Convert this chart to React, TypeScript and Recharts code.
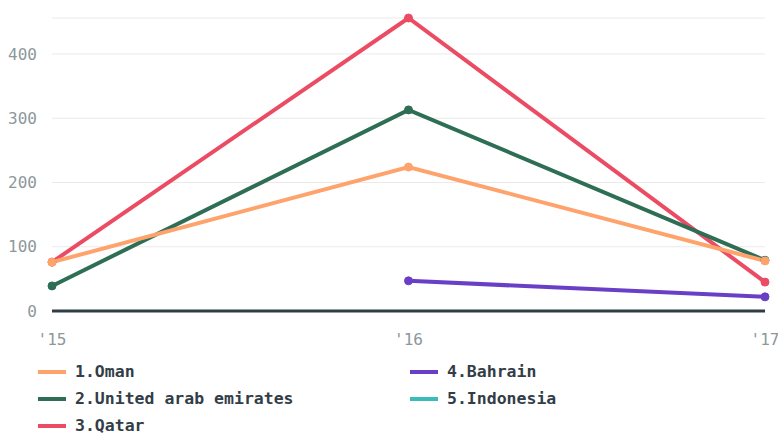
import React from 'react';
import { LineChart, Line, XAxis, YAxis, CartesianGrid } from 'recharts';

const years = ["'15", "'16", "'17"];
const oman = [76, 224, 78];
const uae = [39, 313, 79];
const qatar = [76, 456, 45];
const bahrain = [null, 47, 22];
const indonesia = [null, null, null];
const yTicks = [0, 100, 200, 300, 400];

const series = [
  { key: 'oman', name: '1.Oman', color: '#ffa36c', values: oman },
  { key: 'uae', name: '2.United arab emirates', color: '#2d6e55', values: uae },
  { key: 'qatar', name: '3.Qatar', color: '#ec4c63', values: qatar },
  { key: 'bahrain', name: '4.Bahrain', color: '#6a3fc8', values: bahrain },
  { key: 'indonesia', name: '5.Indonesia', color: '#3bbcb8', values: indonesia },
];

const data = years.map((year, i) => {
  const row: Record<string, string | number | null> = { year };
  series.forEach(s => { row[s.key] = s.values[i]; });
  return row;
});

const font = '"DejaVu Sans Mono", monospace';

const LegendItem = ({ name, color }: { name: string; color: string }) => (
  <div style={{ display: 'flex', alignItems: 'center', height: 27 }}>
    <div style={{ width: 28, height: 4, background: color, marginRight: 9 }} />
    <span style={{ fontWeight: 'bold', fontSize: 16.5, color: '#333d47' }}>{name}</span>
  </div>
);

const App: React.FC = () => {
  // draw in reverse so Oman sits on top, like the original
  const drawOrder = [...series].reverse();
  return (
    <div style={{ position: 'absolute', left: 0, top: 0, width: 778, height: 435, background: '#fff', fontFamily: font, overflow: 'hidden' }}>
      <LineChart width={778} height={352} data={data} margin={{ top: 18, right: 13, left: 0, bottom: 11 }}>
        <CartesianGrid horizontal vertical={false} stroke="#eaeaea" strokeWidth={1} />
        <XAxis
          dataKey="year"
          height={30}
          axisLine={{ stroke: '#2f3e46', strokeWidth: 3 }}
          tickLine={false}
          tickSize={0}
          tickMargin={23}
          tick={{ fill: '#8d979c', fontSize: 16, fontFamily: font }}
          interval={0}
        />
        <YAxis
          width={52}
          domain={[0, 'dataMax']}
          ticks={yTicks}
          axisLine={false}
          tickLine={false}
          tickSize={0}
          tickMargin={15}
          tick={{ fill: '#8d979c', fontSize: 16, fontFamily: font }}
        />
        {drawOrder.map(s => (
          <Line
            key={s.key}
            dataKey={s.key}
            name={s.name}
            stroke={s.color}
            strokeWidth={4}
            dot={{ r: 4, fill: s.color, stroke: s.color, strokeWidth: 1 }}
            activeDot={false}
            isAnimationActive={false}
          />
        ))}
      </LineChart>
      <div style={{ position: 'absolute', left: 38, top: 358, display: 'flex' }}>
        <div style={{ width: 372 }}>
          {series.slice(0, 3).map(s => <LegendItem key={s.key} name={s.name} color={s.color} />)}
        </div>
        <div>
          {series.slice(3).map(s => <LegendItem key={s.key} name={s.name} color={s.color} />)}
        </div>
      </div>
    </div>
  );
};

export default App;
